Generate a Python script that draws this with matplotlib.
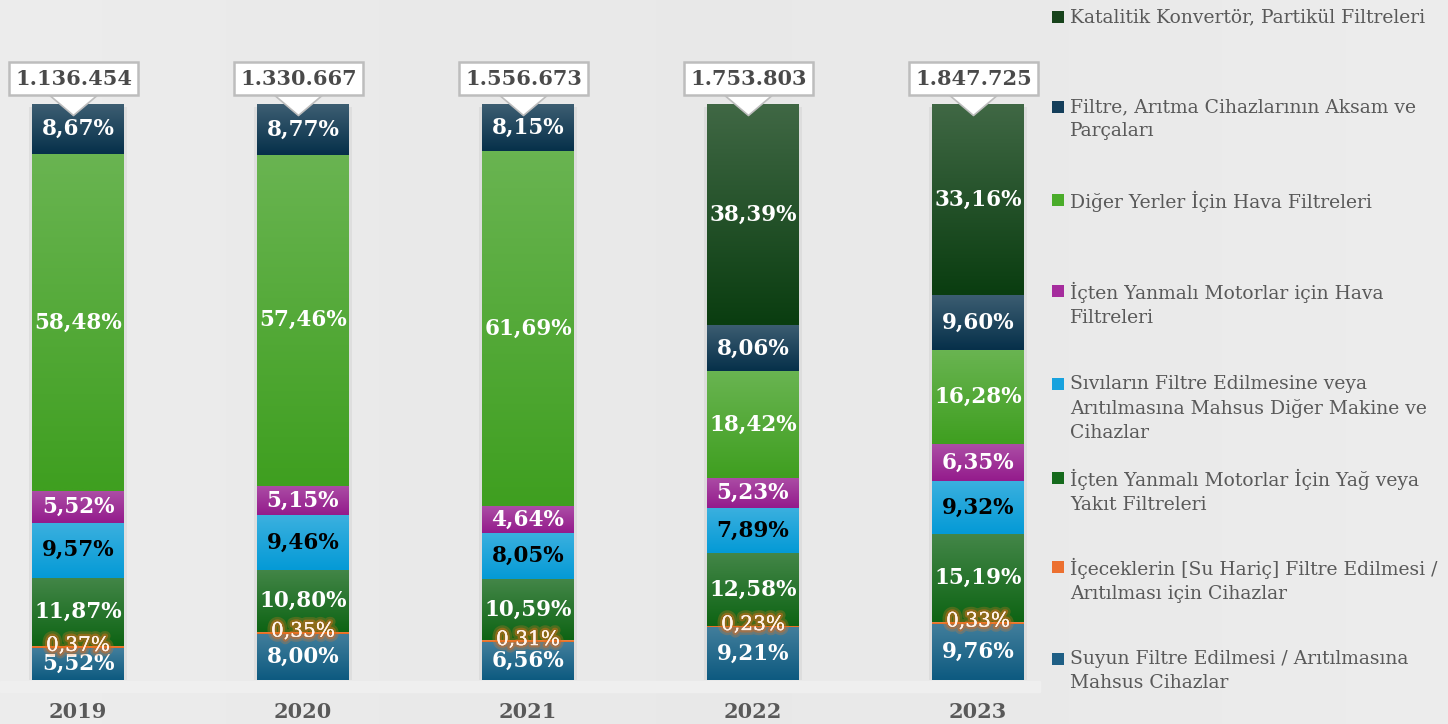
import numpy as np
import matplotlib
matplotlib.use("Agg")
import matplotlib.pyplot as plt
from matplotlib import colors as mcolors
from matplotlib.patches import Rectangle
import matplotlib.patheffects as pe

# ---------------- data ----------------
years = ["2019", "2020", "2021", "2022", "2023"]
totals = ["1.136.454", "1.330.667", "1.556.673", "1.753.803", "1.847.725"]

# series listed bottom -> top of the stack
suyun = [5.52, 8.00, 6.56, 9.21, 9.76]
icecek = [0.37, 0.35, 0.31, 0.23, 0.33]
yag_yakit = [11.87, 10.80, 10.59, 12.58, 15.19]
sivilar = [9.57, 9.46, 8.05, 7.89, 9.32]
icten_hava = [5.52, 5.15, 4.64, 5.23, 6.35]
diger_hava = [58.48, 57.46, 61.69, 18.42, 16.28]
aksam = [8.67, 8.77, 8.15, 8.06, 9.60]
katalitik = [0.0, 0.0, 0.0, 38.39, 33.16]

series = [suyun, icecek, yag_yakit, sivilar, icten_hava, diger_hava, aksam, katalitik]
labels = [
    "Suyun Filtre Edilmesi / Arıtılmasına\nMahsus Cihazlar",
    "İçeceklerin [Su Hariç] Filtre Edilmesi /\nArıtılması için Cihazlar",
    "İçten Yanmalı Motorlar İçin Yağ veya\nYakıt Filtreleri",
    "Sıvıların Filtre Edilmesine veya\nArıtılmasına Mahsus Diğer Makine ve\nCihazlar",
    "İçten Yanmalı Motorlar için Hava\nFiltreleri",
    "Diğer Yerler İçin Hava Filtreleri",
    "Filtre, Arıtma Cihazlarının Aksam ve\nParçaları",
    "Katalitik Konvertör, Partikül Filtreleri",
]
base_colors = ["#0d5a80", "#e8681a", "#0e6414", "#049ad6", "#941b8c",
               "#3f9f20", "#06304a", "#0a3d10"]
legend_colors = ["#1f5f85", "#ec7030", "#156a1c", "#18a2de", "#a52c9d",
                 "#4aac2a", "#143e5a", "#17431b"]
label_colors = ["white", "white", "white", "black", "white", "white", "white", "white"]

FONT = "DejaVu Serif"

# ---------------- figure ----------------
W, H = 1448, 724
fig = plt.figure(figsize=(W / 100, H / 100), dpi=100)
fig.patch.set_facecolor("#e9e9e9")

# background soft gradient
bg = fig.add_axes([0, 0, 1, 1], zorder=-10)
g = np.linspace(0, 1, 256)
bgimg = np.outer(np.ones(64), 0.925 - 0.015 * np.sin(g * np.pi))
bg.imshow(bgimg, cmap="gray", vmin=0, vmax=1, aspect="auto", extent=[0, 1, 0, 1])
bg.axhspan(1 - 692 / H, 1 - 681 / H, xmin=0, xmax=1040 / W, color="#efefef", zorder=2)
bg.set_xlim(0, 1)
bg.set_ylim(0, 1)
bg.set_axis_off()

left_px, right_px = 0, 1040
top_px, bot_px = 104, 680
ax = fig.add_axes([left_px / W, 1 - bot_px / H, (right_px - left_px) / W, (bot_px - top_px) / H])
ax.patch.set_alpha(0)
x0 = -78 / 225
ax.set_xlim(x0, x0 + (right_px - left_px) / 225)
ax.set_ylim(0, 100)
for s in ax.spines.values():
    s.set_visible(False)
ax.set_yticks([])

x = np.arange(len(years))
bw = 92 / 225


def lighten(c, f):
    r = np.array(mcolors.to_rgb(c))
    return r + (1 - r) * f


# soft shadow behind each bar column
for xi in x:
    ax.bar(xi, 100.5, bw + 0.025, bottom=-1.0, color="#000000", alpha=0.05,
           edgecolor="none", zorder=1)

bottom = np.zeros(len(years))
for si, (vals, col) in enumerate(zip(series, base_colors)):
    vals = np.array(vals)
    bars = ax.bar(x, vals, bw, bottom=bottom, color=col, edgecolor="none", zorder=2)
    top_c = lighten(col, 0.22)
    bot_c = np.array(mcolors.to_rgb(col))
    for b, v in zip(bars, vals):
        if v <= 0:
            continue
        t = np.linspace(0, 1, 64)[:, None]
        grad = np.clip(top_c[None, :] * (1 - t) + bot_c[None, :] * t, 0, 1)
        img = np.repeat(grad[:, None, :], 2, axis=1)
        im = ax.imshow(img, extent=[b.get_x(), b.get_x() + b.get_width(),
                                    b.get_y(), b.get_y() + b.get_height()],
                       aspect="auto", zorder=2.5, interpolation="bilinear")
        im.set_clip_path(b)
    # labels
    for xi, v, bt in zip(x, vals, bottom):
        if v <= 0:
            continue
        txt = f"{v:.2f}%".replace(".", ",")
        yc = bt + v / 2
        if si == 1:
            ax.text(xi, yc + 0.3, txt, ha="center", va="center", color="#fff4ec",
                    fontsize=14.5, family=FONT, zorder=6,
                    path_effects=[pe.withStroke(linewidth=7, foreground="#f07a20", alpha=0.25),
                                  pe.withStroke(linewidth=3.5, foreground="#e06a18", alpha=0.45),
                                  pe.Normal()])
        else:
            ax.text(xi, yc, txt, ha="center", va="center", color=label_colors[si],
                    fontsize=15.5, fontweight="bold", family=FONT, zorder=5)
    bottom = bottom + vals

# callouts
for xi, tot in zip(x, totals):
    ax.annotate(tot, xy=(xi - 0.02, 98.0), xytext=(xi - 0.02, 104.4),
                textcoords="data", ha="center", va="center",
                fontsize=15, fontweight="bold", family=FONT, color="#4a4a4a",
                bbox=dict(boxstyle="square,pad=0.3", fc="white", ec="#bdbdbd", lw=1.8),
                arrowprops=dict(arrowstyle="simple,head_length=0.55,head_width=1.3,tail_width=0.6",
                                fc="white", ec="#bdbdbd", lw=1.2, mutation_scale=26,
                                shrinkA=0, shrinkB=0),
                annotation_clip=False, zorder=7)

# year ticks
ax.set_xticks(x)
ax.set_xticklabels(years, fontsize=15, fontweight="bold", family=FONT, color="#595959")
ax.tick_params(axis="x", length=0, pad=16)

# ---------------- legend (manual, right side) ----------------
leg_tops = [17, 107, 200, 291, 384, 478, 567, 659]  # first-line centers, top -> bottom
order = list(range(len(series)))[::-1]
for ypx, si in zip(leg_tops, order):
    fig.patches.append(Rectangle((1052 / W, 1 - (ypx + 6) / H), 12 / W, 12 / H,
                                 transform=fig.transFigure, fc=legend_colors[si],
                                 ec="none", figure=fig))
    fig.text(1070 / W, 1 - (ypx - 9) / H, labels[si], ha="left", va="top",
             fontsize=13.5, family=FONT, color="#595959", linespacing=1.42,
             transform=fig.transFigure)

fig.savefig("out.png", dpi=100, facecolor=fig.get_facecolor())
